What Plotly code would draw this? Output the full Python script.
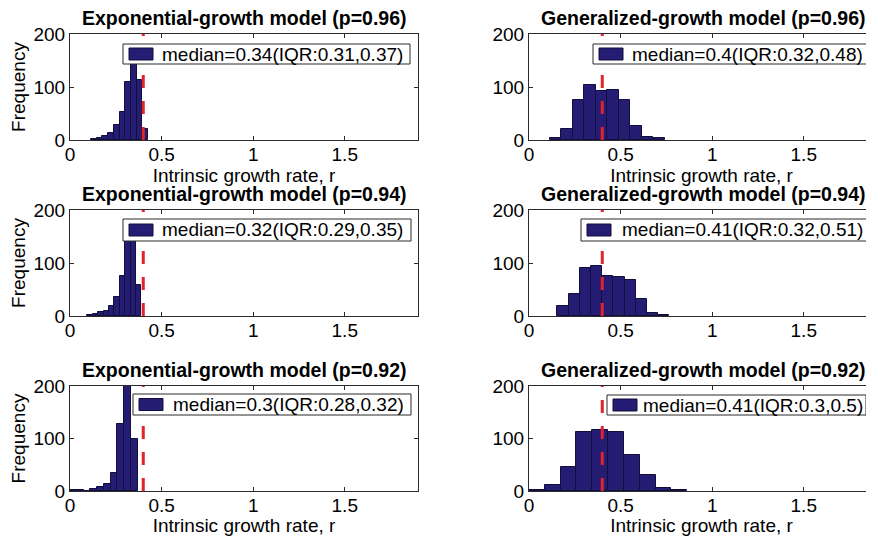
import plotly.graph_objects as go

# ---------------- data ----------------
true_r = 0.4  # dashed reference line

panel_titles = [
    "Exponential-growth model (p=0.96)", "Generalized-growth model (p=0.96)",
    "Exponential-growth model (p=0.94)", "Generalized-growth model (p=0.94)",
    "Exponential-growth model (p=0.92)", "Generalized-growth model (p=0.92)",
]
legend_labels = [
    "median=0.34(IQR:0.31,0.37)", "median=0.4(IQR:0.32,0.48)",
    "median=0.32(IQR:0.29,0.35)", "median=0.41(IQR:0.32,0.51)",
    "median=0.3(IQR:0.28,0.32)", "median=0.41(IQR:0.3,0.5)",
]

# histogram bins: first left edge, bin width, counts
exp96_start, exp96_width = 0.115, 0.0312
exp96_counts = [2, 4, 7, 13, 28, 53, 110, 146, 113, 20]
gen96_start, gen96_width = 0.113, 0.0627
gen96_counts = [4, 20, 75, 104, 92, 94, 76, 27, 6, 4]
exp94_start, exp94_width = 0.095, 0.0295
exp94_counts = [1, 3, 8, 10, 19, 35, 75, 152, 145, 59]
gen94_start, gen94_width = 0.155, 0.0612
gen94_counts = [19, 42, 91, 94, 76, 73, 67, 32, 6, 1]
exp92_start, exp92_width = 0.0, 0.037
exp92_counts = [1, 1, 0, 3, 7, 14, 35, 127, 215, 99]
gen92_start, gen92_width = 0.0, 0.0864
gen92_counts = [1, 11, 45, 112, 117, 112, 68, 30, 5, 1]

x_ticks = [0, 0.5, 1, 1.5]
x_ticktext = ["0", "0.5", "1", "1.5"]
y_ticks = [0, 100, 200]
x_title = "Intrinsic growth rate, r"
y_title = "Frequency"

hists = [
    (exp96_start, exp96_width, exp96_counts),
    (gen96_start, gen96_width, gen96_counts),
    (exp94_start, exp94_width, exp94_counts),
    (gen94_start, gen94_width, gen94_counts),
    (exp92_start, exp92_width, exp92_counts),
    (gen92_start, gen92_width, gen92_counts),
]

# ---------------- layout geometry (screen pixels) ----------------
SCREEN_W, SCREEN_H = 874, 536
OFF = 8  # page body margin
W, H = SCREEN_W - OFF, SCREEN_H - OFF
FONT = "Liberation Sans, Arial, Helvetica, sans-serif"
FS = 19
BAR = "#251d74"
BAR_EDGE = "#120e3a"
AX = "#2b2b2b"
RED = "#e3222b"

def xp(sx):
    return (sx - OFF) / W

def yp(sy):
    return 1 - (sy - OFF) / H

col_px = [(70, 418), (529, 874)]
row_px = [(34, 140), (210, 316), (386, 491)]
px_per_unit = (418 - 70) / 1.9

# legend boxes: (box_left, box_right, box_top, box_bottom, text_x)
legend_px = [
    (123, 410, 44, 64, 160),
    (593, 872, 44, 64, 630),
    (123, 411, 219, 241, 160),
    (581, 871, 219, 241, 620),
    (133, 411, 394, 415, 171),
    (607, 866, 395, 415, 641),
]

fig = go.Figure()
layout = dict(
    width=W, height=H,
    margin=dict(l=0, r=0, t=0, b=0, autoexpand=False),
    paper_bgcolor="white", plot_bgcolor="white",
    showlegend=False, bargap=0,
    font=dict(family=FONT, size=FS, color="black"),
)
shapes = []
annotations = []

for i, (start, width, counts) in enumerate(hists):
    n = i + 1
    r, c = divmod(i, 2)
    xs = [start + width * (k + 0.5) for k in range(len(counts))]
    fig.add_trace(go.Bar(
        x=xs, y=counts, width=width,
        marker=dict(color=BAR, line=dict(color=BAR_EDGE, width=1)),
        xaxis=f"x{n}", yaxis=f"y{n}", name=legend_labels[i],
    ))
    cx0, cx1 = col_px[c]
    ry0, ry1 = row_px[r]
    xmax = (cx1 - cx0) / px_per_unit
    xa = dict(
        domain=[xp(cx0), min(1.0, xp(cx1))], range=[0, xmax], anchor=f"y{n}",
        tickvals=x_ticks, ticktext=x_ticktext, automargin=False,
        ticks="inside", ticklen=4, tickcolor=AX, tickwidth=1,
        showline=True, linecolor=AX, linewidth=1, mirror="ticks",
        showgrid=False, zeroline=False, ticklabelstandoff=-3,
        tickfont=dict(family=FONT, size=FS, color="black"),
    )
    if r != 1:
        xa["title"] = dict(text=x_title, font=dict(family=FONT, size=FS, color="black"), standoff=2)
    ya = dict(
        domain=[yp(ry1), yp(ry0)], range=[0, 200], anchor=f"x{n}",
        tickvals=y_ticks, automargin=False,
        ticks="inside", ticklen=4, tickcolor=AX, tickwidth=1,
        showline=True, linecolor=AX, linewidth=1, mirror="ticks",
        showgrid=False, zeroline=False,
        tickfont=dict(family=FONT, size=FS, color="black"),
    )
    if c == 0:
        ya["title"] = dict(text=y_title, font=dict(family=FONT, size=FS, color="black"), standoff=4)
    layout["xaxis" if n == 1 else f"xaxis{n}"] = xa
    layout["yaxis" if n == 1 else f"yaxis{n}"] = ya

    # dashed reference line
    shapes.append(dict(
        type="line", xref=f"x{n}", yref=f"y{n}", x0=true_r, x1=true_r, y0=0, y1=200,
        line=dict(color=RED, width=3, dash="13px,13px"), layer="above",
    ))
    # legend box
    bl, br, bt, bb, tx = legend_px[i]
    shapes.append(dict(
        type="rect", xref="paper", yref="paper",
        x0=xp(bl), x1=xp(br), y0=yp(bb), y1=yp(bt),
        fillcolor="white", line=dict(color=AX, width=1), layer="above",
    ))
    mid = (bt + bb) / 2
    shapes.append(dict(
        type="rect", xref="paper", yref="paper",
        x0=xp(bl + 6), x1=xp(bl + 30), y0=yp(mid + 6), y1=yp(mid - 6),
        fillcolor=BAR, line=dict(color=BAR_EDGE, width=1), layer="above",
    ))
    annotations.append(dict(
        text=legend_labels[i], xref="paper", yref="paper",
        x=xp(tx), y=yp(mid), xanchor="left", yanchor="middle", showarrow=False,
        font=dict(family=FONT, size=FS, color="black"),
    ))
    # panel title
    annotations.append(dict(
        text=f"<b>{panel_titles[i]}</b>", xref="paper", yref="paper",
        x=xp((cx0 + cx0 + 1.9 * px_per_unit) / 2), y=yp(ry0 - 16),
        xanchor="center", yanchor="middle", showarrow=False,
        font=dict(family=FONT, size=19.5, color="black"),
    ))

layout["shapes"] = shapes
layout["annotations"] = annotations
fig.update_layout(**layout)
fig.write_html("out.html")
